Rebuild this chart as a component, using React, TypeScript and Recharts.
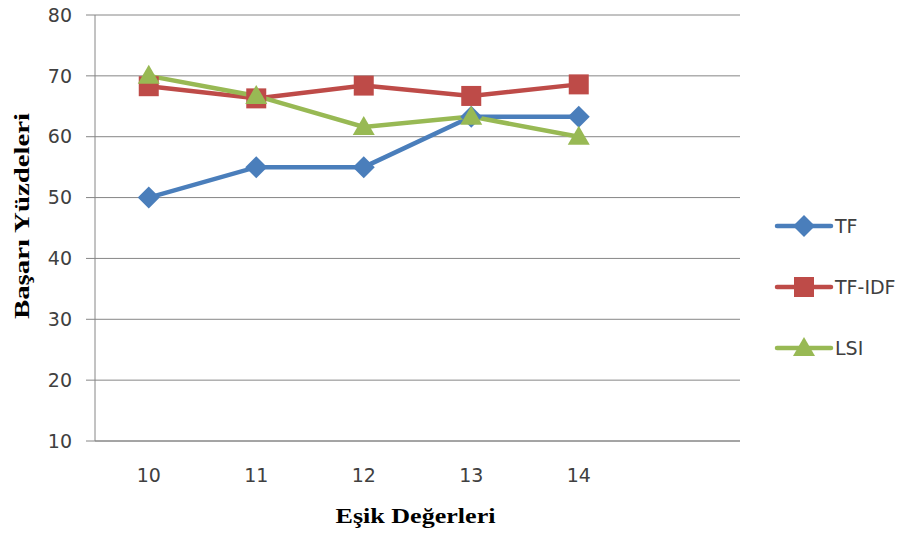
import React from 'react';
import { LineChart, Line, XAxis, YAxis, CartesianGrid, Legend } from 'recharts';

// threshold categories (last slot is left empty on purpose)
const thresholds = ['10', '11', '12', '13', '14', ''];
const tfValues = [50, 55, 55, 63.3, 63.3, null];
const tfidfValues = [68.3, 66.3, 68.4, 66.7, 68.6, null];
const lsiValues = [70, 66.7, 61.6, 63.3, 60, null];
const yTicks = [10, 20, 30, 40, 50, 60, 70, 80];

const seriesNames = ['TF', 'TF-IDF', 'LSI'];
const seriesColors = ['#4a7ebb', '#be4b48', '#98b954'];

const data = thresholds.map((t, i) => ({
  name: t,
  TF: tfValues[i],
  'TF-IDF': tfidfValues[i],
  LSI: lsiValues[i],
}));

const GRID = '#868686';
const TICK_FONT = { fontFamily: 'DejaVu Sans', fontSize: 19, fill: '#404040' };

const Marker = ({ shape, x, y, color }: { shape: string; x: number; y: number; color: string }) => {
  if (shape === 'diamond') {
    return <path d={`M${x},${y - 11}L${x + 11},${y}L${x},${y + 11}L${x - 11},${y}Z`} fill={color} />;
  }
  if (shape === 'square') {
    return <rect x={x - 10} y={y - 10} width={20} height={20} fill={color} />;
  }
  return <path d={`M${x},${y - 11}L${x + 11},${y + 8}L${x - 11},${y + 8}Z`} fill={color} />;
};

const makeDot = (shape: string, color: string) => (props: any) => {
  const { cx, cy, value, index } = props;
  if (value == null || cx == null || cy == null) return <g key={`e-${index}`} />;
  return <Marker key={`m-${index}`} shape={shape} x={cx} y={cy} color={color} />;
};

const shapes = ['diamond', 'square', 'triangle'];

const renderLegend = () => (
  <svg width={130} height={150}>
    {seriesNames.map((name, i) => {
      const y = 16 + i * 61;
      return (
        <g key={name}>
          <line x1={4} y1={y} x2={58} y2={y} stroke={seriesColors[i]} strokeWidth={4.5} strokeLinecap="round" />
          <Marker shape={shapes[i]} x={31} y={y} color={seriesColors[i]} />
          <text x={62} y={y + 7} {...TICK_FONT}>{name}</text>
        </g>
      );
    })}
  </svg>
);

const YTitle = (props: any) => {
  const { viewBox } = props;
  const cy = viewBox.y + viewBox.height / 2 - 12;
  return (
    <text
      x={0}
      y={0}
      transform={`translate(29, ${cy}) rotate(-90)`}
      textAnchor="middle"
      fontFamily="Liberation Serif"
      fontWeight="bold"
      fontSize={22}
      fill="#000"
      textLength={206}
      lengthAdjust="spacingAndGlyphs"
    >
      Başarı Yüzdeleri
    </text>
  );
};

const XTitle = (props: any) => {
  const { viewBox } = props;
  const cx = viewBox.x + viewBox.width / 2 - 2;
  return (
    <text
      x={cx}
      y={523}
      textAnchor="middle"
      fontFamily="Liberation Serif"
      fontWeight="bold"
      fontSize={22}
      fill="#000"
      textLength={160}
      lengthAdjust="spacingAndGlyphs"
    >
      Eşik Değerleri
    </text>
  );
};

export default function App() {
  return (
    <div style={{ position: 'absolute', left: 0, top: 0, width: 907, height: 534, background: '#fff' }}>
      <LineChart width={907} height={534} data={data} margin={{ top: 15, right: 167, bottom: 63, left: 0 }}>
        <CartesianGrid vertical={false} stroke={GRID} strokeWidth={1} />
        <XAxis
          dataKey="name"
          scale="band"
          height={30}
          tickLine={false}
          axisLine={{ stroke: GRID }}
          tick={TICK_FONT}
          tickMargin={22}
          label={{ content: <XTitle /> }}
        />
        <YAxis
          width={95}
          domain={[10, 80]}
          ticks={yTicks}
          interval={0}
          tickSize={9}
          tickLine={{ stroke: GRID }}
          axisLine={{ stroke: GRID }}
          tick={TICK_FONT}
          tickMargin={14}
          label={{ content: <YTitle /> }}
        />
        <Legend
          layout="vertical"
          align="center"
          verticalAlign="middle"
          content={renderLegend}
          wrapperStyle={{ left: 773, top: 210, width: 130, height: 150 }}
        />
        {seriesNames.map((name, i) => (
          <Line
            key={name}
            dataKey={name}
            stroke={seriesColors[i]}
            strokeWidth={4.5}
            dot={makeDot(shapes[i], seriesColors[i])}
            activeDot={false}
            isAnimationActive={false}
          />
        ))}
      </LineChart>
    </div>
  );
}
